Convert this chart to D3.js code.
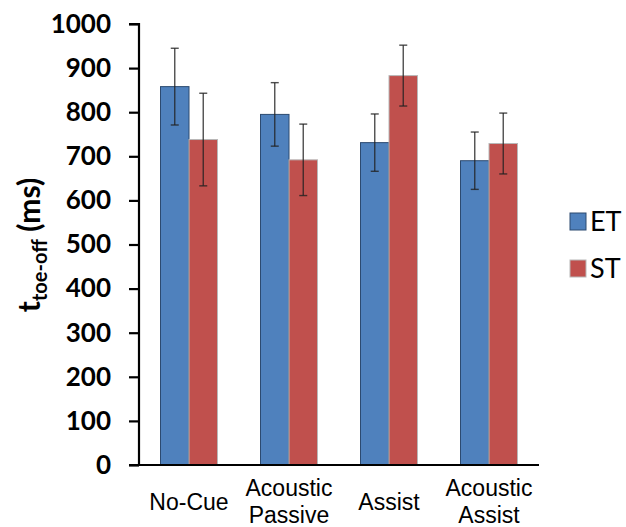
<!DOCTYPE html>
<html>
<head>
<meta charset="utf-8">
<script src="https://cdn.jsdelivr.net/npm/d3@7"></script>
<style>
  body { margin: 0; background: #fff; }
</style>
</head>
<body>
<div id="chart"></div>
<script>
var W = 626, H = 527;

// data
var categories = [["No-Cue"], ["Acoustic", "Passive"], ["Assist"], ["Acoustic", "Assist"]];
var seriesNames = ["ET", "ST"];
var etMeans = [858, 795, 731, 690];
var etErr = [87, 72, 65, 65];
var stMeans = [738, 692, 883, 729];
var stErr = [105, 81, 69, 69];
var yTicks = [0, 100, 200, 300, 400, 500, 600, 700, 800, 900, 1000];

var colors = { ET: "#4F81BD", ST: "#C0504D" };
var strokes = { ET: "#2c4a70", ST: "#b8b8b8" };

var svg = d3.select("#chart").append("svg")
    .attr("width", W)
    .attr("height", H);

var x0 = d3.scaleBand()
    .domain(d3.range(categories.length))
    .range([139, 539])
    .paddingInner(0.43)
    .paddingOuter(0.215);

var x1 = d3.scaleBand()
    .domain(seriesNames)
    .range([0, x0.bandwidth()]);

var y = d3.scaleLinear()
    .domain([0, 1000])
    .range([465, 24]);

var rows = [];
categories.forEach(function(c, i) {
  rows.push({ cat: i, s: "ET", v: etMeans[i], e: etErr[i] });
  rows.push({ cat: i, s: "ST", v: stMeans[i], e: stErr[i] });
});

// bars
svg.append("g").selectAll("rect")
    .data(rows)
  .enter().append("rect")
    .attr("x", function(d) { return x0(d.cat) + x1(d.s); })
    .attr("y", function(d) { return y(d.v); })
    .attr("width", x1.bandwidth())
    .attr("height", function(d) { return y(0) - y(d.v); })
    .attr("fill", function(d) { return colors[d.s]; })
    .attr("stroke", function(d) { return strokes[d.s]; })
    .attr("stroke-width", 1);

// error bars
var eb = svg.append("g").selectAll("g")
    .data(rows)
  .enter().append("g")
    .attr("stroke", "#222")
    .attr("stroke-opacity", 0.8)
    .attr("stroke-width", 1.4);

eb.append("line")
    .attr("x1", function(d) { return x0(d.cat) + x1(d.s) + x1.bandwidth() / 2; })
    .attr("x2", function(d) { return x0(d.cat) + x1(d.s) + x1.bandwidth() / 2; })
    .attr("y1", function(d) { return y(d.v + d.e); })
    .attr("y2", function(d) { return y(d.v - d.e); });

[1, -1].forEach(function(sign) {
  eb.append("line")
      .attr("x1", function(d) { return x0(d.cat) + x1(d.s) + x1.bandwidth() / 2 - 4; })
      .attr("x2", function(d) { return x0(d.cat) + x1(d.s) + x1.bandwidth() / 2 + 4; })
      .attr("y1", function(d) { return y(d.v + sign * d.e); })
      .attr("y2", function(d) { return y(d.v + sign * d.e); });
});

// y axis
var yAxis = d3.axisLeft(y)
    .tickValues(yTicks)
    .tickSize(10)
    .tickPadding(18)
    .tickFormat(d3.format("d"));

var gy = svg.append("g")
    .attr("transform", "translate(139,0)")
    .call(yAxis);
gy.select(".domain").attr("stroke", "#000").attr("stroke-width", 2.2).attr("d", "M-10,24H0V465");
gy.selectAll(".tick line").attr("stroke", "#000").attr("stroke-width", 2.2);
gy.selectAll(".tick text")
    .style("font-family", "Lato, 'Open Sans', sans-serif")
    .style("font-weight", "bold")
    .style("font-size", "26px")
    .attr("fill", "#000");

// x axis line
svg.append("line")
    .attr("x1", 129).attr("x2", 539)
    .attr("y1", y(0)).attr("y2", y(0))
    .attr("stroke", "#000")
    .attr("stroke-width", 2.2);

// x labels
var xl = svg.append("g").selectAll("text")
    .data(categories)
  .enter().append("text")
    .attr("x", function(d, i) { return x0(i) + x0.bandwidth() / 2; })
    .attr("y", function(d) { return d.length === 1 ? 510 : 496; })
    .attr("text-anchor", "middle")
    .style("font-family", "'Liberation Sans', Arial, sans-serif")
    .style("font-size", "23px")
    .attr("fill", "#000");

xl.selectAll("tspan")
    .data(function(d) { return d; })
  .enter().append("tspan")
    .attr("x", function() { return this.parentNode.getAttribute("x"); })
    .attr("dy", function(d, i) { return i === 0 ? 0 : 27; })
    .text(function(d) { return d; });

// y axis title
var yt = svg.append("text")
    .attr("transform", "translate(40,245) rotate(-90)")
    .attr("text-anchor", "middle")
    .style("font-family", "Lato, 'Open Sans', sans-serif")
    .style("font-weight", "bold")
    .style("font-size", "30px")
    .attr("fill", "#000");
yt.append("tspan").text("t");
yt.append("tspan").attr("dy", 7).style("font-size", "20px").text("toe-off");
yt.append("tspan").attr("dy", -7).text(" (ms)");

// legend
var lg = svg.append("g").selectAll("g")
    .data(seriesNames)
  .enter().append("g")
    .attr("transform", function(d, i) { return "translate(570," + (213 + i * 47) + ")"; });

lg.append("rect")
    .attr("width", 16)
    .attr("height", 17)
    .attr("fill", function(d) { return colors[d]; })
    .attr("stroke", function(d) { return strokes[d]; })
    .attr("stroke-width", 1);

lg.append("text")
    .attr("x", 20)
    .attr("y", 18)
    .style("font-family", "Lato, 'Open Sans', sans-serif")
    .style("font-size", "27px")
    .attr("fill", "#000")
    .text(function(d) { return d; });
</script>
</body>
</html>
